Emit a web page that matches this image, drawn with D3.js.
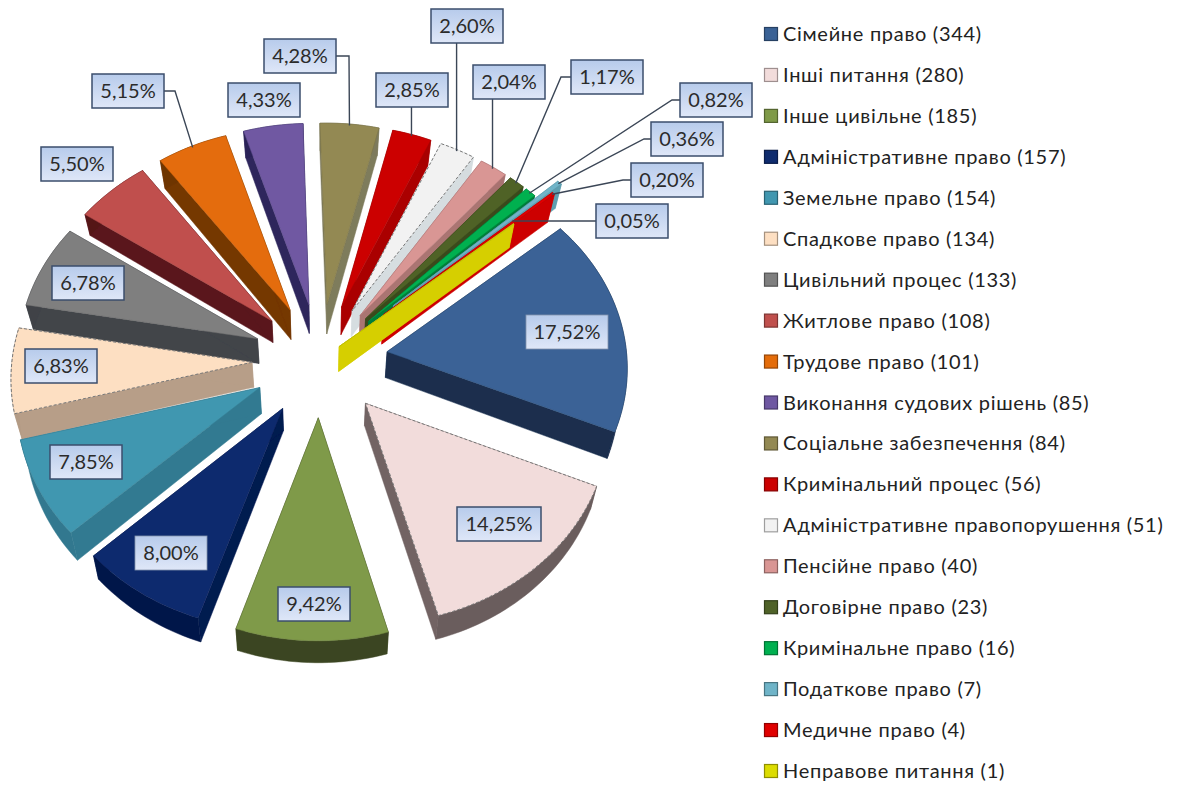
<!DOCTYPE html>
<html><head><meta charset="utf-8">
<script src="https://cdn.jsdelivr.net/npm/d3@7/dist/d3.min.js"></script>
<style>html,body{margin:0;background:#fff}svg{display:block}text{font-family:Lato,"Noto Sans",sans-serif}</style>
</head><body><svg id="c" width="1177" height="785"></svg>
<script>
const categories=["Сімейне право","Інші питання","Інше цивільне","Адміністративне право","Земельне право","Спадкове право","Цивільний процес","Житлове право","Трудове право","Виконання судових рішень","Соціальне забезпечення","Кримінальний процес","Адміністративне правопорушення","Пенсійне право","Договірне право","Кримінальне право","Податкове право","Медичне право","Неправове питання"];
const counts=[344,280,185,157,154,134,133,108,101,85,84,56,51,40,23,16,7,4,1];
const percents=["17,52%","14,25%","9,42%","8,00%","7,85%","6,83%","6,78%","5,50%","5,15%","4,33%","4,28%","2,85%","2,60%","2,04%","1,17%","0,82%","0,36%","0,20%","0,05%"];
const topColors=["#3a6296","#f2dcdb","#7f9a48","#0f2c6e","#4197b0","#fddfc2","#7f7f7f","#c0504d","#e46c0a","#6f58a2","#938953","#cc0000","#f2f2f2","#d99694","#4f6228","#00b050","#6fb4c8","#e00000","#dcdc00"];
const wallColors=["#182b4a","#6b5d5d","#3a4520","#001548","#31788f","#b39b85","#3f4247","#551319","#6e3400","#2b2358","#7d7a5c","#a80000","#d5dcdf","#a87270","#3a491c","#007a3a","#5f9fb0","#cc0000","#d6ce00"];
const dashed=[1,5,12];
const explosion=[68,68,68,68,68,68,68,68,68,68,68,68,68,68,68,68,100,85,25];
const depths=[26,22,20,22,26,25,25,22,30,29,30,28,26,26,26,26,26,30,25];
// label layout: box centre, leader anchor side
const labelCentres=[[567,332],[499,524],[314,604],[171,553],[86,462],[61,366],[88,283],[77,164],[128,91],[264,100],[300,56],[412,90],[467,26],[509,82],[607,77],[716,100],[687,139],[667,180],[632,221]];
const leaders={8:["r",11],10:["r",13],11:["b"],12:["b"],13:["b"],14:["l",-10],15:["l",-8],16:["l",-7],17:["l",-8],18:["h"]};

const svg=d3.select("#c"), DEG=Math.PI/180;
const cx=320,cy=360,R=240,rho=0.835,D=3650,taper=0.001;
const proj=(X,Y,z=0)=>{const s=D/(D-Y);return [cx+X*s*(1-z*taper),cy+rho*Y*s+z*s];};
const polar=(r,a,e,am)=>[e*Math.sin(am)+r*Math.sin(a),-(e*Math.cos(am))-r*Math.cos(a)];
const line=d3.line();
const pie=d3.pie().sort(null).startAngle(50*DEG).endAngle(410*DEG);
const arcs=pie(counts).map((d,i)=>({...d,i,e:explosion[i],depth:depths[i],mid:(d.startAngle+d.endAngle)/2}));
const pt=(d,r,a,z=0)=>{const p=polar(r,a,d.e,d.mid);return proj(p[0],p[1],z);};
const arcAngles=d=>{const n=Math.max(2,Math.ceil((d.endAngle-d.startAngle)/(1.5*DEG)));return d3.range(n+1).map(k=>d.startAngle+(d.endAngle-d.startAngle)*k/n);};

const order=[...arcs].sort((a,b)=>(-Math.cos(a.mid))-(-Math.cos(b.mid)));
const defs=svg.append("defs");
const g=defs.append("linearGradient").attr("id","lab").attr("x1",0).attr("y1",0).attr("x2",0).attr("y2",1);
g.append("stop").attr("offset",0).attr("stop-color","#b7cbeb");
g.append("stop").attr("offset",1).attr("stop-color","#dfe7f8");
const soft=defs.append("filter").attr("id","soft");soft.append("feGaussianBlur").attr("stdDeviation",0.45);

const pieG=svg.append("g").attr("filter","url(#soft)");
order.forEach(d=>{
  const top=topColors[d.i],wall=wallColors[d.i],edge=d3.interpolateRgb(wall,top)(d.i===3?0.2:0.05);
  const slice=pieG.append("g");
  const as=arcAngles(d);
  const outer=as.map(a=>pt(d,R,a)),outerLow=as.map(a=>pt(d,R,a,d.depth)).reverse();
  [d.startAngle,d.endAngle].forEach(a=>{
    slice.append("path").attr("d",line([pt(d,0,a),pt(d,R,a),pt(d,R,a,d.depth),pt(d,0,a,d.depth)])+"Z").attr("fill",edge).attr("stroke",edge).attr("stroke-width",.5);
  });
  slice.append("path").attr("d",line([...outer,...outerLow])+"Z").attr("fill",wall).attr("stroke",wall).attr("stroke-width",.5);
  const isDash=dashed.includes(d.i);
  slice.append("path").attr("d",line([pt(d,0,0),...outer])+"Z").attr("fill",top)
    .attr("stroke",isDash?"#777":d3.color(top).darker(.5)).attr("stroke-width",isDash?1:.5).attr("stroke-dasharray",isDash?"3 2":null);
});

// leader lines
const boxW=72,boxH=34;
const lg=svg.append("g").attr("fill","none").attr("stroke","#3b4656").attr("stroke-width",1.4);
Object.entries(leaders).forEach(([k,cfg])=>{
  const i=+k,d=arcs[i],c=labelCentres[i];
  const end=pt(d,R-2,d.mid);
  let pts;
  if(cfg[0]==="b") pts=[[end[0],c[1]+boxH/2],end];
  else if(cfg[0]==="r") pts=[[c[0]+boxW/2,c[1]],[c[0]+boxW/2+cfg[1],c[1]],end];
  else if(cfg[0]==="h") pts=[[c[0]-boxW/2,c[1]],[end[0],c[1]]];
  else pts=[[c[0]-boxW/2,c[1]],[c[0]-boxW/2+cfg[1],c[1]],end];
  lg.append("path").attr("d",line(pts));
});

// data labels
const faintBorder=new Set([0,3]);
arcs.forEach(d=>{
  const c=labelCentres[d.i],w=d.i===0?82:d.i===1?84:boxW;
  const l=svg.append("g").attr("transform",`translate(${c[0]},${c[1]})`);
  l.append("rect").attr("x",-w/2).attr("y",-boxH/2).attr("width",w).attr("height",boxH).attr("fill","url(#lab)")
    .attr("stroke",faintBorder.has(d.i)?"#8494ad":"#3b4e6c").attr("stroke-width",faintBorder.has(d.i)?.8:1.5);
  l.append("text").attr("text-anchor","middle").attr("dy","0.36em").attr("font-size",20).attr("fill","#2b2b2b").text(percents[d.i]);
});

// legend
const legendY=d3.scalePoint().domain(categories).range([34,771]);
const lgd=svg.append("g").selectAll("g").data(categories).join("g").attr("transform",c=>`translate(764,${legendY(c)})`);
lgd.append("rect").attr("x",.5).attr("y",-6.5).attr("width",13).attr("height",13)
  .attr("fill",(c,i)=>topColors[i]).attr("stroke",(c,i)=>d3.color(topColors[i]).darker(1.2)).attr("stroke-width",1.2);
lgd.append("text").attr("x",19).attr("dy","0.35em").attr("font-size",20).attr("fill","#222").attr("letter-spacing",.7)
  .text((c,i)=>`${c} (${counts[i]})`);
</script></body></html>
